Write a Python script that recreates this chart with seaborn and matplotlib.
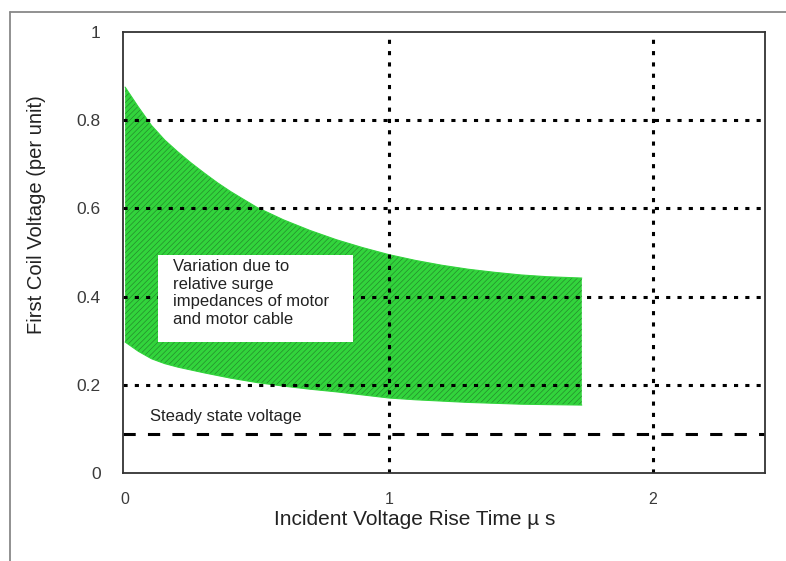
import numpy as np
import matplotlib
matplotlib.use("Agg")
import matplotlib.pyplot as plt
import seaborn as sns
from matplotlib.patches import Rectangle
from matplotlib.lines import Line2D

# ---- data ----
upper_x = [0.0, 0.05, 0.1, 0.15, 0.2, 0.25, 0.3, 0.35, 0.4, 0.5, 0.6, 0.7, 0.8,
           0.9, 1.0, 1.1, 1.2, 1.3, 1.4, 1.5, 1.6, 1.73]
upper_y = [0.875, 0.83, 0.788, 0.755, 0.728, 0.703, 0.68, 0.658, 0.638, 0.602,
           0.574, 0.55, 0.529, 0.511, 0.495, 0.482, 0.471, 0.462, 0.455, 0.449,
           0.445, 0.442]
lower_x = [0.0, 0.05, 0.1, 0.15, 0.2, 0.3, 0.4, 0.5, 0.6, 0.7, 0.8, 0.9, 1.0,
           1.1, 1.2, 1.3, 1.4, 1.5, 1.6, 1.73]
lower_y = [0.297, 0.276, 0.259, 0.248, 0.240, 0.227, 0.215, 0.205, 0.197, 0.190,
           0.184, 0.177, 0.170, 0.166, 0.163, 0.160, 0.158, 0.156, 0.155, 0.154]
steady_state = 0.088
h_grid = [0.2, 0.4, 0.6, 0.8]
v_grid = [1, 2]
x_ticks = [0, 1, 2]
x_tick_labels = ["0", "1", "2"]
y_ticks = [0, 0.2, 0.4, 0.6, 0.8, 1]
y_tick_labels = ["0", "0.2", "0.4", "0.6", "0.8", "1"]
band_label = "Variation due to\nrelative surge\nimpedances of motor\nand motor cable"
steady_label = "Steady state voltage"
x_label = "Incident Voltage Rise Time \u00b5 s"
y_label = "First Coil Voltage (per unit)"

sns.set_theme(style="white")
plt.rcParams["font.family"] = ["Liberation Sans", "DejaVu Sans"]
plt.rcParams["hatch.linewidth"] = 0.45

fig = plt.figure(figsize=(7.86, 5.61), dpi=100)
fig.patch.set_facecolor("white")
ax = fig.add_axes([0.1565, 0.1569, 0.8168, 0.7861])
ax.set_xlim(-0.008, 2.424)
ax.set_ylim(0, 1)

# green hatched band
poly_x = np.concatenate([upper_x, lower_x[::-1]])
poly_y = np.concatenate([upper_y, lower_y[::-1]])
ax.fill(poly_x, poly_y, facecolor="#32d43c", edgecolor="#23852a",
        hatch="//////", linewidth=0, zorder=1)
sns.lineplot(x=upper_x, y=upper_y, ax=ax, color="#32d43c", linewidth=0.8, zorder=1)
sns.lineplot(x=lower_x, y=lower_y, ax=ax, color="#32d43c", linewidth=0.8, zorder=1)

# dotted grid
for g in h_grid:
    ax.axhline(g, color="black", linewidth=2.2, dashes=(1.35, 2.35), zorder=2)
for g in v_grid:
    ax.axvline(g, color="black", linewidth=2.2, dashes=(1.35, 2.35), zorder=2)

# steady state dashed line
ax.axhline(steady_state, color="black", linewidth=2.2, dashes=(4, 4), zorder=2)

# annotation box
ax.add_patch(Rectangle((0.125, 0.297), 0.739, 0.197, facecolor="white",
                       edgecolor="none", zorder=3))
ax.text(0.182, 0.486, band_label, fontsize=12, color="#222222",
        va="top", ha="left", linespacing=1.24, zorder=4)
ax.text(0.095, 0.129, steady_label, fontsize=12, color="#222222",
        va="center", ha="left", zorder=4)

# ticks and labels
ax.set_xticks(x_ticks)
ax.set_xticklabels(x_tick_labels)
ax.set_yticks(y_ticks)
ax.set_yticklabels(y_tick_labels)
ax.tick_params(axis="both", direction="in", length=3, width=1, colors="#333333",
               labelcolor="#3a3a3a")
ax.tick_params(axis="y", labelsize=12.5, pad=16)
ax.tick_params(axis="x", labelsize=11.5, pad=14)
ax.set_xlabel(x_label, fontsize=15, color="#222222")
ax.set_ylabel(y_label, fontsize=14.5, color="#222222")
ax.xaxis.set_label_coords(0.455, -0.083)
ax.yaxis.set_label_coords(-0.12, 0.585)

for s in ax.spines.values():
    s.set_color("#333333")
    s.set_linewidth(1.3)
    s.set_visible(True)

# outer frame (left and top edges visible in the reference)
x0 = 10 / 786
y0 = 1 - 12 / 561
fig.add_artist(Line2D([x0, x0], [0, y0], transform=fig.transFigure,
                      color="#888888", linewidth=1.3))
fig.add_artist(Line2D([x0, 1], [y0, y0], transform=fig.transFigure,
                      color="#888888", linewidth=1.3))

fig.savefig("out.png", dpi=100)
